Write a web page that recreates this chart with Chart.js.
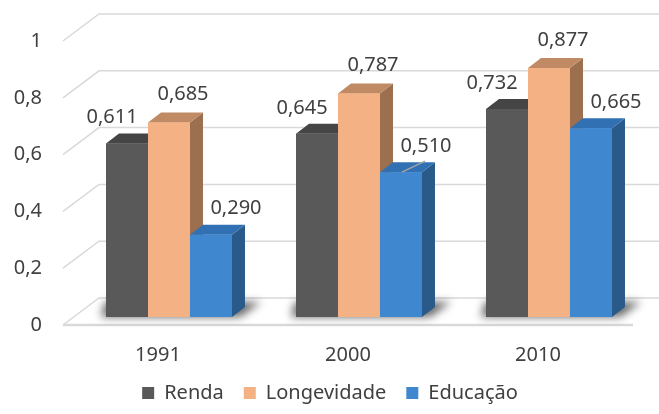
<!DOCTYPE html>
<html lang="pt-BR">
<head>
<meta charset="utf-8">
<title>IDHM – Renda, Longevidade e Educação</title>
<script src="https://cdn.jsdelivr.net/npm/chart.js@4/dist/chart.umd.min.js"></script>
<style>
  html, body { margin: 0; padding: 0; background: #ffffff; }
  canvas { display: block; }
</style>
</head>
<body>
<canvas id="c" width="659" height="414"></canvas>
<script>
// Anos e índices por dimensão
const anos = ['1991', '2000', '2010'];
const renda = [0.611, 0.645, 0.732];
const longevidade = [0.685, 0.787, 0.877];
const educacao = [0.290, 0.510, 0.665];
const eixoY = [0, 0.2, 0.4, 0.6, 0.8, 1];

// Cores: face frontal, topo e lateral de cada série
const estilos = [
  { front: '#595959', top: '#454545', side: '#3a3a3a', dx: -15, dy: -26 },
  { front: '#F4B183', top: '#BF8A64', side: '#9C6F4F', dx: 14, dy: -28 },
  { front: '#3F88CF', top: '#3170B2', side: '#2A5A8A', dx: 25, dy: -26 }
];

// Profundidade das barras e das paredes do gráfico
const DEPTH_X = 13, DEPTH_Y = 10;
const BACK_X = 25, BACK_Y = 19;     // parede do fundo em relação ao plano das barras
const FRONT_X = 11, FRONT_Y = 8;    // borda frontal do piso
const GRID = '#d9d9d9';
const TEXT = '#404040';
const FONT = "'Noto Sans', 'Open Sans', sans-serif";

// Rótulo com linha de chamada (série, categoria)
const comLinha = [[2, 1]];

const fmt = v => v.toFixed(3).replace('.', ',');

function poly(ctx, pts, color) {
  ctx.beginPath();
  ctx.moveTo(pts[0][0], pts[0][1]);
  for (let i = 1; i < pts.length; i++) ctx.lineTo(pts[i][0], pts[i][1]);
  ctx.closePath();
  ctx.fillStyle = color;
  ctx.fill();
}

const paredes = {
  id: 'paredes',
  afterLayout(chart) {
    // centraliza a legenda sob a área do gráfico
    const lg = chart.legend;
    if (lg) { lg.left += 4; lg.right += 4; }
  },
  beforeDatasetsDraw(chart) {
    const { ctx, chartArea: a, scales: { y } } = chart;
    ctx.save();
    ctx.strokeStyle = GRID;
    ctx.lineWidth = 1.5;
    // Parede do fundo e parede lateral
    eixoY.forEach(v => {
      const py = y.getPixelForValue(v);
      ctx.beginPath();
      ctx.moveTo(a.left - FRONT_X, py + FRONT_Y);
      ctx.lineTo(a.left + BACK_X, py - BACK_Y);
      ctx.lineTo(a.right + BACK_X, py - BACK_Y);
      ctx.stroke();
    });
    // Borda frontal do piso
    const p0 = y.getPixelForValue(0);
    ctx.lineWidth = 2.5;
    ctx.beginPath();
    ctx.moveTo(a.left - FRONT_X, p0 + FRONT_Y);
    ctx.lineTo(a.right - FRONT_X, p0 + FRONT_Y);
    ctx.stroke();

    // Sombras suaves sob cada grupo de barras
    const metas = chart.data.datasets.map((d, i) => chart.getDatasetMeta(i));
    anos.forEach((_, j) => {
      const first = metas[0].data[j], last = metas[metas.length - 1].data[j];
      const x0 = first.x - first.width / 2, x1 = last.x + last.width / 2;
      const b = first.base;
      ctx.save();
      ctx.filter = 'blur(4px)';
      poly(ctx, [
        [x0 - 5, b], [x1 + 8, b],
        [x1 + DEPTH_X + 16, b - 15], [x0 + DEPTH_X - 14, b - 15]
      ], 'rgba(0,0,0,0.6)');
      ctx.restore();
    });
    ctx.restore();
  },
  afterDatasetsDraw(chart) {
    const { ctx } = chart;
    const metas = chart.data.datasets.map((d, i) => chart.getDatasetMeta(i));
    ctx.save();
    // Barras em 3D, da esquerda para a direita
    anos.forEach((_, j) => {
      metas.forEach((meta, i) => {
        const el = meta.data[j];
        const { x, y, base, width } = el.getProps(['x', 'y', 'base', 'width'], true);
        const l = x - width / 2, r = x + width / 2;
        const s = estilos[i];
        poly(ctx, [[r, y], [r + DEPTH_X, y - DEPTH_Y], [r + DEPTH_X, base - DEPTH_Y], [r, base]], s.side);
        poly(ctx, [[l, y], [r, y], [r + DEPTH_X, y - DEPTH_Y], [l + DEPTH_X, y - DEPTH_Y]], s.top);
        poly(ctx, [[l, y], [r, y], [r, base], [l, base]], s.front);
      });
    });
    // Rótulos de valor
    ctx.font = '20px ' + FONT;
    ctx.fillStyle = TEXT;
    ctx.textAlign = 'center';
    ctx.textBaseline = 'middle';
    metas.forEach((meta, i) => {
      const valores = chart.data.datasets[i].data;
      meta.data.forEach((el, j) => {
        const s = estilos[i];
        ctx.fillText(fmt(valores[j]), el.x + s.dx, el.y + s.dy);
      });
    });
    // Linhas de chamada
    ctx.strokeStyle = '#a6a6a6';
    ctx.lineWidth = 1.5;
    comLinha.forEach(([i, j]) => {
      const el = metas[i].data[j];
      const l = el.x - el.width / 2;
      ctx.beginPath();
      ctx.moveTo(l + 22, el.y);
      ctx.lineTo(l + 45, el.y - 11);
      ctx.stroke();
    });
    ctx.restore();
  }
};

new Chart(document.getElementById('c'), {
  type: 'bar',
  data: {
    labels: anos,
    datasets: [
      { label: 'Renda', data: renda, backgroundColor: estilos[0].front, borderWidth: 0 },
      { label: 'Longevidade', data: longevidade, backgroundColor: estilos[1].front, borderWidth: 0 },
      { label: 'Educação', data: educacao, backgroundColor: estilos[2].front, borderWidth: 0 }
    ]
  },
  options: {
    responsive: false,
    devicePixelRatio: 1,
    animation: false,
    layout: { padding: { left: 8, right: 15, top: 33, bottom: 1 } },
    datasets: { bar: { categoryPercentage: 0.663, barPercentage: 1 } },
    scales: {
      x: {
        grid: { display: false, drawTicks: false },
        border: { display: false },
        ticks: { color: TEXT, font: { family: FONT, size: 20 }, padding: 26, labelOffset: -FRONT_X },
        afterFit(scale) {
          scale.height = 46;
          scale.paddingLeft = 0; scale.paddingRight = 0;
        }
      },
      y: {
        min: 0, max: 1,
        grid: { display: false, drawTicks: false },
        border: { display: false },
        afterBuildTicks(scale) { scale.ticks = eixoY.map(v => ({ value: v })); },
        ticks: {
          color: TEXT, font: { family: FONT, size: 20 }, padding: 32, labelOffset: FRONT_Y,
          callback: v => String(Math.round(v * 10) / 10).replace('.', ',')
        },
        afterFit(scale) {
          scale.width = 66;
          scale.paddingTop = 0; scale.paddingBottom = 0;
        }
      }
    },
    plugins: {
      legend: {
        position: 'bottom',
        labels: {
          boxWidth: 12, boxHeight: 12, padding: 20,
          color: TEXT, font: { family: FONT, size: 20 }
        }
      },
      tooltip: { enabled: false }
    }
  },
  plugins: [paredes]
});
</script>
</body>
</html>
